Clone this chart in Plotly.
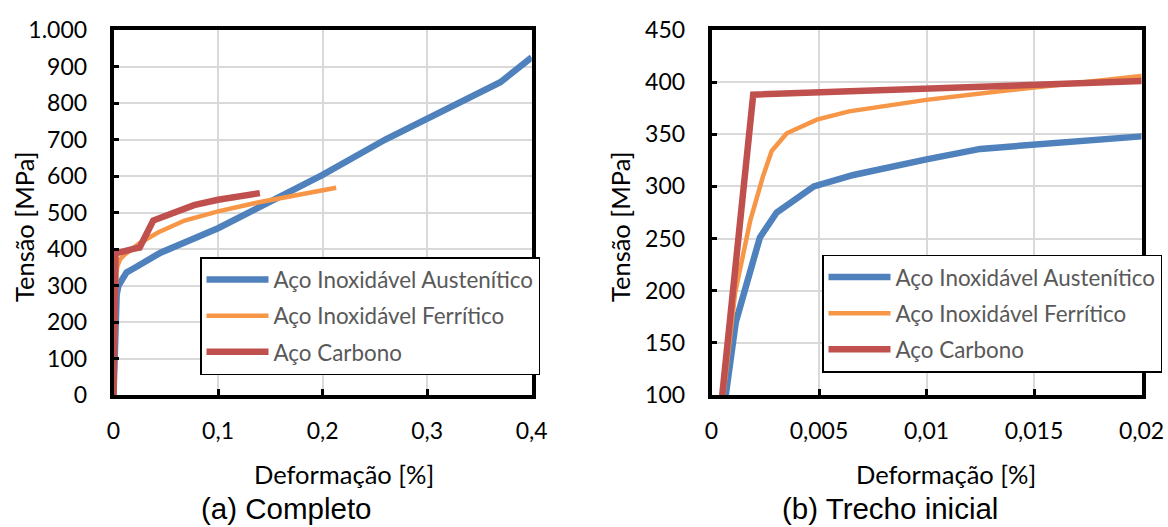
import plotly.graph_objects as go

# ---------------- data ----------------
series_names = ["Aço Inoxidável Austenítico", "Aço Inoxidável Ferrítico", "Aço Carbono"]

aus_strain = [0, 0.00113, 0.00225, 0.00303, 0.00476, 0.0066, 0.01, 0.0125, 0.02,
              0.045, 0.1, 0.2, 0.26, 0.34, 0.37, 0.4]
aus_stress = [0, 170, 251, 275, 300, 311, 326, 336, 348,
              390, 457, 603, 700, 815, 857, 925]

fer_strain = [0, 0.0011, 0.0018, 0.0024, 0.0028, 0.0035, 0.0049, 0.0064, 0.01, 0.0133,
              0.02, 0.025, 0.043, 0.068, 0.1, 0.139, 0.213]
fer_stress = [0, 198, 267, 310, 334, 351, 364, 372, 383, 391,
              406, 416, 446, 478, 503, 528, 568]

car_strain = [0, 0.00194, 0.02, 0.025, 0.038, 0.077, 0.1, 0.14]
car_stress = [0, 388, 401, 404, 478, 520, 535, 553]

left_xticks = [0, 0.1, 0.2, 0.3, 0.4]
left_xtext = ["0", "0,1", "0,2", "0,3", "0,4"]
left_yticks = [0, 100, 200, 300, 400, 500, 600, 700, 800, 900, 1000]
left_ytext = ["0", "100", "200", "300", "400", "500", "600", "700", "800", "900", "1.000"]

right_xticks = [0, 0.005, 0.01, 0.015, 0.02]
right_xtext = ["0", "0,005", "0,01", "0,015", "0,02"]
right_yticks = [100, 150, 200, 250, 300, 350, 400, 450]
right_ytext = ["100", "150", "200", "250", "300", "350", "400", "450"]

subtitles = ["(a) Completo", "(b) Trecho inicial"]
x_title = "Deformação [%]"
y_title = "Tensão [MPa]"

colors = ["#4F81BD", "#F79646", "#C0504D"]
widths = [6.5, 4.5, 6.5]

# ---------------- layout geometry ----------------
W, H = 1168, 527
def px(x):
    return x / W
def py(y):
    return 1 - y / H

TICKFONT = dict(family="Lato", size=23, color="#000000")
TITLEFONT = dict(family="Lato", size=25.5, color="#000000")
LEGFONT = dict(family="Lato", size=22.4, color="#595959")
SUBFONT = dict(family="Liberation Sans", size=29.5, color="#000000")

fig = go.Figure()

data = [(aus_strain, aus_stress), (fer_strain, fer_stress), (car_strain, car_stress)]
for panel, (xa, ya, leg) in enumerate([("x", "y", "legend"), ("x2", "y2", "legend2")]):
    for i, (xs, ys) in enumerate(data):
        fig.add_trace(go.Scatter(
            x=xs, y=ys, mode="lines", name=series_names[i],
            line=dict(color=colors[i], width=widths[i]),
            xaxis=xa, yaxis=ya, legend=leg, legendgroup=f"{leg}{i}",
            hoverinfo="skip",
        ))

axis_common = dict(
    showline=True, linecolor="#000000", linewidth=3.5, mirror=True,
    showgrid=True, gridcolor="#D9D9D9", gridwidth=2,
    ticks="inside", ticklen=6, tickwidth=2.5, tickcolor="#000000",
    zeroline=False, tickfont=TICKFONT, automargin=False, fixedrange=True,
)

ydom = [py(395), py(30)]
fig.update_layout(
    width=W, height=H,
    margin=dict(l=0, r=0, t=0, b=0),
    paper_bgcolor="white", plot_bgcolor="white",
    showlegend=True,
    xaxis=dict(axis_common, domain=[px(113.5), px(531.7)], range=[0, 0.4],
               tickmode="array", tickvals=left_xticks, ticktext=left_xtext,
               anchor="y", ticklabelstandoff=13),
    yaxis=dict(axis_common, domain=ydom, range=[0, 1000],
               tickmode="array", tickvals=left_yticks, ticktext=left_ytext,
               anchor="x", ticklabelstandoff=18),
    xaxis2=dict(axis_common, domain=[px(711.5), px(1141.5)], range=[0, 0.02],
                tickmode="array", tickvals=right_xticks, ticktext=right_xtext,
                anchor="y2", ticklabelstandoff=13),
    yaxis2=dict(axis_common, domain=ydom, range=[100, 450],
                tickmode="array", tickvals=right_yticks, ticktext=right_ytext,
                anchor="x2", ticklabelstandoff=18),
    legend=dict(x=px(200), y=py(257), xanchor="left", yanchor="top",
                bgcolor="white", bordercolor="#000000", borderwidth=1.5,
                font=LEGFONT, itemwidth=62, tracegroupgap=4, itemclick=False,
                itemdoubleclick=False),
    legend2=dict(x=px(822), y=py(254.5), xanchor="left", yanchor="top",
                 bgcolor="white", bordercolor="#000000", borderwidth=1.5,
                 font=LEGFONT, itemwidth=62, tracegroupgap=4, itemclick=False,
                 itemdoubleclick=False),
)

annotations = [
    dict(text=y_title, x=px(24), y=py(227), textangle=-90, font=TITLEFONT),
    dict(text=y_title, x=px(620), y=py(227), textangle=-90, font=TITLEFONT),
    dict(text=x_title, x=px(343.5), y=py(474), font=TITLEFONT),
    dict(text=x_title, x=px(946), y=py(474), font=TITLEFONT),
    dict(text=subtitles[0], x=px(286), y=py(508), font=SUBFONT),
    dict(text=subtitles[1], x=px(889.7), y=py(508), font=SUBFONT),
]
for a in annotations:
    fig.add_annotation(xref="paper", yref="paper", showarrow=False,
                       xanchor="center", yanchor="middle", **a)

fig.write_html("out.html", config={"displayModeBar": False})
